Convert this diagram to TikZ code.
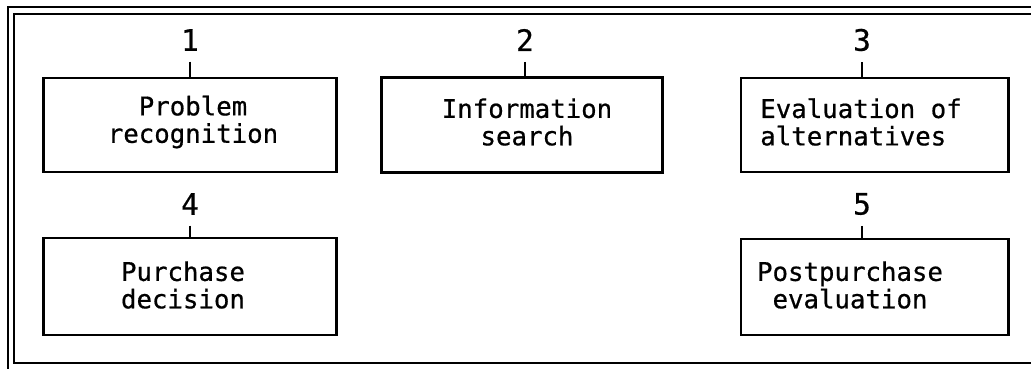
\documentclass[tikz,border=0pt]{standalone}
\usepackage{fontspec}
\newfontfamily\stagefont[FakeBold=0.6]{DejaVu Sans Mono}
\usetikzlibrary{positioning}

\begin{document}
\begin{tikzpicture}[x=0.025cm,y=-0.025cm,line width=1.5pt]
\tikzset{stage/.style={draw,rectangle,line width=2.1pt,inner sep=0pt},
  stagetext/.style={align=center,inner sep=0pt,font=\stagefont\fontsize{18.3}{19.5}\selectfont},
  stagenum/.style={inner xsep=1pt,inner ysep=7pt,font=\stagefont\fontsize{21}{21}\selectfont}}
\clip (0,0) rectangle (1031,368);
\useasboundingbox (0,0) rectangle (1031,368);

% ---------- frame ----------
\draw (8,7) rectangle (1060,400);
\draw (14,14) rectangle (1060,363);

% ---------- boxes ----------
\node[stage,minimum width=7.3cm,minimum height=2.35cm] (B1) at (190,125) {};
\node[stage,minimum width=7cm,minimum height=2.375cm] (B2) at (522,125) {};
\node[stage,minimum width=6.675cm,minimum height=2.35cm] (B3) at (874.5,125) {};
\node[stage,minimum width=7.3cm,minimum height=2.425cm] (B4) at (190,286.5) {};
\node[stage,minimum width=6.675cm,minimum height=2.4cm] (B5) at (874.5,287) {};

\node[stagetext] (T1) at (193,122) {Problem\\recognition};
\node[stagetext] (T2) at (527,122) {Information\\search};
\node[stagetext,align=left] (T3) at (861,122) {Evaluation of\\alternatives};
\node[stagetext] (T4) at (183,285) {Purchase\\decision};
\node[stagetext] (T5) at (850,285) {Postpurchase\\evaluation};

% ---------- numbers ----------
\node[stagenum] (N1) at (190,40) {1};
\node[stagenum] (N2) at (525,40) {2};
\node[stagenum] (N3) at (862,40) {3};
\node[stagenum] (N4) at (190,204) {4};
\node[stagenum] (N5) at (862,204) {5};

\draw (N1.south) -- (N1.south |- B1.north);
\draw (N2.south) -- (N2.south |- B2.north);
\draw (N3.south) -- (N3.south |- B3.north);
\draw (N4.south) -- (N4.south |- B4.north);
\draw (N5.south) -- (N5.south |- B5.north);

\end{tikzpicture}
\end{document}
